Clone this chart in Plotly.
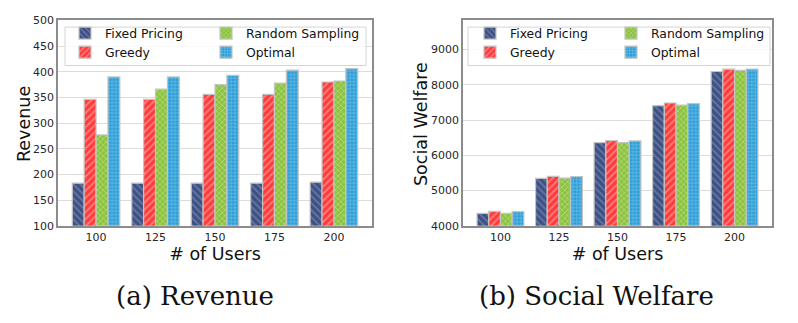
import plotly.graph_objects as go

users = ["100", "125", "150", "175", "200"]
series = ["Fixed Pricing", "Greedy", "Random Sampling", "Optimal"]

revenue_fixed = [183, 183, 183, 183, 185]
revenue_greedy = [346, 346, 356, 356, 380]
revenue_random = [277, 366, 375, 378, 382]
revenue_optimal = [390, 390, 393, 403, 406]

welfare_fixed = [4355, 5348, 6360, 7410, 8380]
welfare_greedy = [4410, 5400, 6415, 7485, 8445]
welfare_random = [4355, 5355, 6360, 7425, 8410]
welfare_optimal = [4400, 5395, 6408, 7470, 8448]

left_ticks = [100, 150, 200, 250, 300, 350, 400, 450, 500]
right_ticks = [4000, 5000, 6000, 7000, 8000, 9000]

styles = {
    "Fixed Pricing": dict(bg="#3d5082", fg="#8d9cc4", shape="\\", size=5, sol=0.35, col=0),
    "Greedy": dict(bg="#ff3a3a", fg="#ffc4c4", shape="/", size=5, sol=0.35, col=0),
    "Random Sampling": dict(bg="#8cc33f", fg="#e6f5cf", shape="x", size=4, sol=0.3, col=1),
    "Optimal": dict(bg="#2b9ed8", fg="#cfeaf8", shape="+", size=3.5, sol=0.3, col=1),
}

fig = go.Figure()

def add_set(vals, xa, ya, legs):
    for name, v in zip(series, vals):
        s = styles[name]
        fig.add_trace(go.Bar(
            x=users, y=v, name=name, xaxis=xa, yaxis=ya, legend=legs[s["col"]],
            marker=dict(color=s["bg"],
                        line=dict(color="#c4c4c4", width=1.2),
                        pattern=dict(shape=s["shape"], bgcolor=s["bg"], fgcolor=s["fg"],
                                     size=s["size"], solidity=s["sol"])),
        ))

add_set([revenue_fixed, revenue_greedy, revenue_random, revenue_optimal], "x", "y",
        ["legend", "legend2"])
add_set([welfare_fixed, welfare_greedy, welfare_random, welfare_optimal], "x2", "y2",
        ["legend3", "legend4"])

H = 323.0
W = 798.0
ydom = [(H - 229) / H, (H - 15) / H]
tickfont = dict(family="DejaVu Sans", size=11, color="#262626")
titlefont = dict(family="DejaVu Sans", size=17.5, color="#111")
axis_common = dict(showline=True, mirror=True, linecolor="#8c8c8c", linewidth=1.5,
                   ticks="", tickfont=tickfont, zeroline=False)

def leg(xpx):
    return dict(x=xpx / W, y=(H - 13) / H, xanchor="left", yanchor="top",
                orientation="v", bgcolor="rgba(0,0,0,0)", borderwidth=0,
                font=dict(family="DejaVu Sans", size=12.4, color="#111"),
                traceorder="normal", tracegroupgap=0)

box_style = dict(type="rect", xref="paper", yref="paper", layer="above",
                 line=dict(color="#d4d4d4", width=1), fillcolor="rgba(255,255,255,0.85)")

fig.update_layout(
    width=798, height=323, autosize=False,
    margin=dict(l=0, r=0, t=0, b=0),
    paper_bgcolor="white", plot_bgcolor="white",
    barmode="group", bargap=0.2, bargroupgap=0,
    xaxis=dict(domain=[58 / W, 372 / W], range=[-0.64, 4.64], anchor="y",
               title=dict(text="# of Users", font=titlefont, standoff=2),
               showgrid=False, **axis_common),
    yaxis=dict(domain=ydom, range=[100, 500], tickvals=left_ticks, anchor="x",
               showgrid=True, gridcolor="#dcdcdc", gridwidth=1, **axis_common),
    xaxis2=dict(domain=[463 / W, 772 / W], range=[-0.64, 4.64], anchor="y2",
                title=dict(text="# of Users", font=titlefont, standoff=2),
                showgrid=False, **axis_common),
    yaxis2=dict(domain=ydom, range=[4000, 9830], tickvals=right_ticks, anchor="x2",
                showgrid=True, gridcolor="#dcdcdc", gridwidth=1, **axis_common),
    legend=leg(65), legend2=leg(206), legend3=leg(470), legend4=leg(611),
    shapes=[
        dict(x0=65 / W, x1=366 / W, y0=(H - 62) / H, y1=(H - 22) / H, **box_style),
        dict(x0=468 / W, x1=770 / W, y0=(H - 62) / H, y1=(H - 22) / H, **box_style),
    ],
    annotations=[
        dict(text="Revenue", x=24 / W, y=(H - 123) / H, xref="paper", yref="paper",
             xanchor="center", yanchor="middle", showarrow=False, textangle=-90,
             font=titlefont),
        dict(text="Social Welfare", x=421 / W, y=(H - 123) / H, xref="paper", yref="paper",
             xanchor="center", yanchor="middle", showarrow=False, textangle=-90,
             font=titlefont),
        dict(text="(a) Revenue", x=195 / W, y=(H - 302) / H, xref="paper", yref="paper",
             xanchor="center", yanchor="middle", showarrow=False,
             font=dict(family="DejaVu Serif", size=26, color="#111")),
        dict(text="(b) Social Welfare", x=596 / W, y=(H - 302) / H, xref="paper", yref="paper",
             xanchor="center", yanchor="middle", showarrow=False,
             font=dict(family="DejaVu Serif", size=26, color="#111")),
    ],
)

fig.write_html("out.html")
